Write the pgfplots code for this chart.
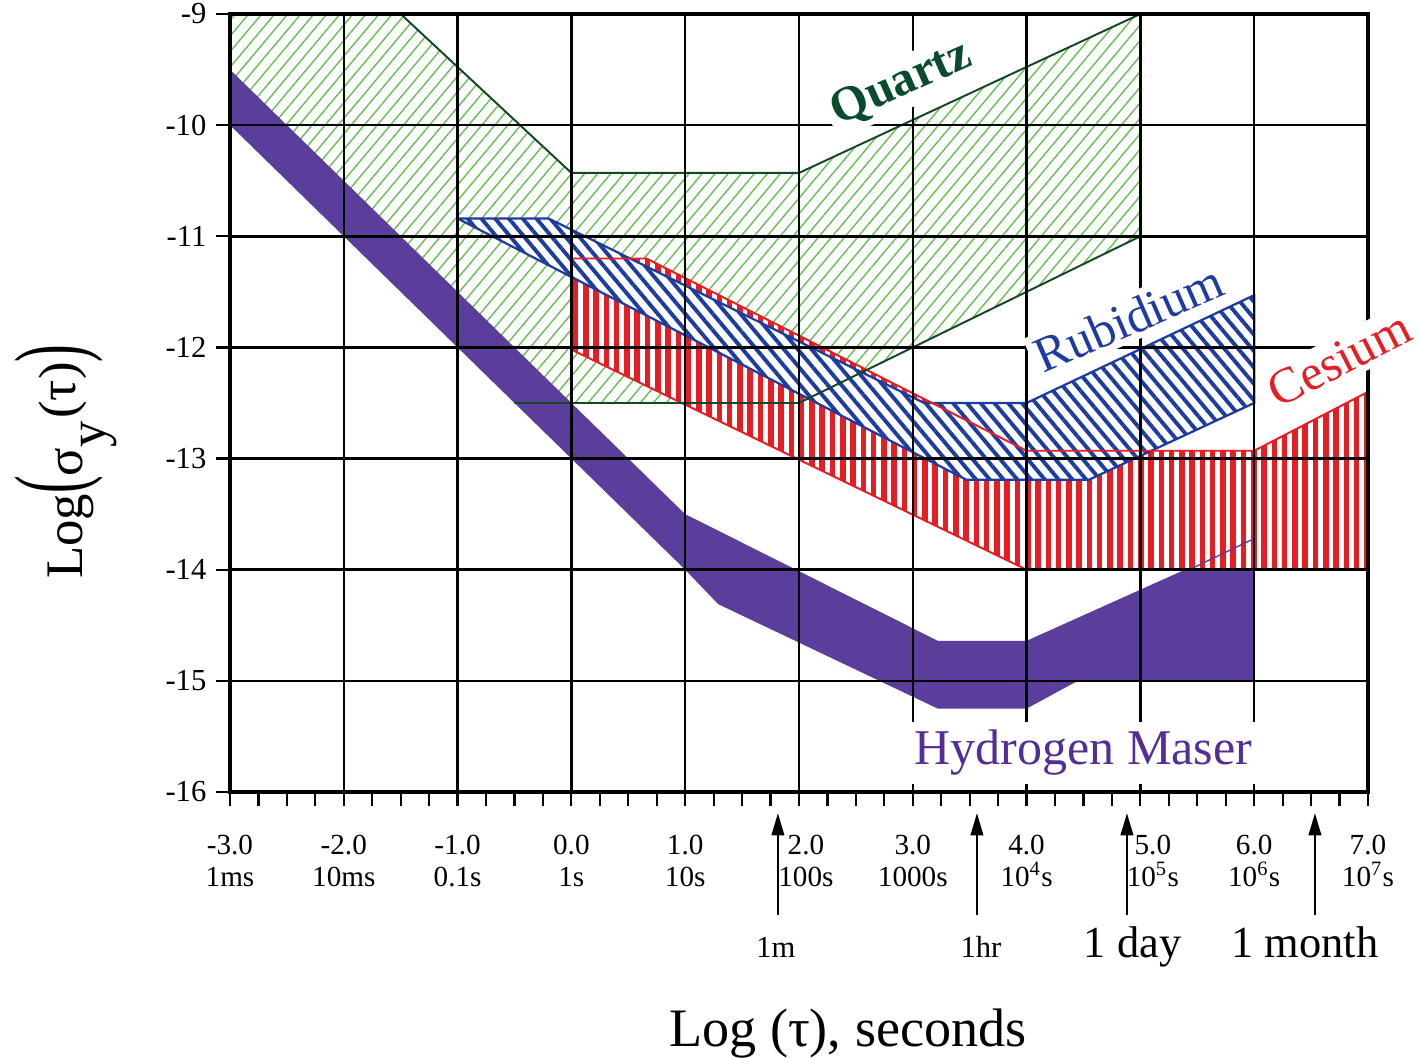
\documentclass[border=0pt]{standalone}
\usepackage{fontspec}
\setmainfont{Liberation Serif}
\usepackage{pgfplots}
\pgfplotsset{compat=1.18}
\usetikzlibrary{patterns.meta,arrows.meta}

\definecolor{maser}{RGB}{91,61,155}
\definecolor{hmtext}{RGB}{85,45,150}
\definecolor{csred}{RGB}{230,30,35}
\definecolor{rbblue}{RGB}{30,60,160}
\definecolor{qzgreen}{RGB}{100,190,80}
\definecolor{qzline}{RGB}{20,70,40}
\definecolor{qztext}{RGB}{10,75,45}

\begin{document}
\begin{tikzpicture}
\begin{axis}[
    scale only axis, width=409.7pt, height=280.1pt,
    xmin=-3, xmax=7, ymin=-16, ymax=-9,
    axis on top, clip=false,
    xtick={-3,...,7}, ytick={-16,...,-9},
    minor x tick num=3,
    grid=major, major grid style={black, line width=0.9pt},
    axis line style={line width=1.1pt},
    tick style={black, line width=0.8pt},
    tick align=outside, xtick pos=lower, ytick pos=left,
    major tick length=5pt, minor tick length=5pt,
    xticklabels={{-3.0\\1ms},{-2.0\\10ms},{-1.0\\0.1s},{0.0\\1s},{1.0\\10s},
        {\hspace*{5pt}2.0\\\hspace*{5pt}100s},{3.0\\1000s},{4.0\\10\textsuperscript{4}s},
        {\hspace*{9pt}5.0\\\hspace*{9pt}10\textsuperscript{5}s},
        {6.0\\10\textsuperscript{6}s},{7.0\\10\textsuperscript{7}s}},
    yticklabels={-16,-15,-14,-13,-12,-11,-10,-9},
    xticklabel style={align=center, yshift=-7pt, font=\fontsize{10.5}{11.6}\selectfont},
    yticklabel style={font=\fontsize{11}{13}\selectfont},
]

% quartz
\addplot[draw=none, pattern={Lines[angle=50,distance=3.6pt,line width=0.5pt]}, pattern color=qzgreen]
    coordinates {(-3,-9) (-1.5,-9) (0,-10.43) (2,-10.43) (5,-9) (5,-11) (2,-12.5) (-0.5,-12.5) (-3,-10)};

% hydrogen maser
\addplot[draw=none, fill=maser] coordinates {
    (-3,-9.5) (1,-13.5) (3.22,-14.64) (4,-14.64) (6,-13.72) (6,-15) (4.45,-15)
    (4,-15.25) (3.22,-15.25) (1.29,-14.31) (1,-14) (-3,-10)};

% cesium
\addplot[draw=none, fill=white] coordinates {
    (0,-11.2) (0.66,-11.2) (4,-12.93) (6,-12.93) (7,-12.4) (7,-14) (4,-14) (0,-12.02)};
\addplot[draw=none, pattern={Lines[angle=90,distance=3.7pt,line width=2pt]}, pattern color=csred]
    coordinates {(0,-11.2) (0.66,-11.2) (4,-12.93) (6,-12.93) (7,-12.4) (7,-14) (4,-14) (0,-12.02)};

% rubidium
\addplot[draw=none, fill=white] coordinates {
    (-1,-10.84) (-0.2,-10.84) (3.1,-12.5) (4,-12.5) (6,-11.53) (6,-12.5) (4.55,-13.19) (3.47,-13.19)};
\addplot[draw=rbblue, line width=0.8pt, pattern={Lines[angle=-50,distance=3.8pt,line width=1.4pt]}, pattern color=rbblue]
    coordinates {(-1,-10.84) (-0.2,-10.84) (3.1,-12.5) (4,-12.5) (6,-11.53) (6,-12.5) (4.55,-13.19) (3.47,-13.19) (-1,-10.84)};

% outlines on top
\addplot[csred, line width=0.7pt] coordinates {
    (0,-11.2) (0.66,-11.2) (4,-12.93) (6,-12.93) (7,-12.4) (7,-14) (4,-14) (0,-12.02) (0,-11.2)};
\addplot[maser, line width=0.5pt] coordinates {(5.43,-14) (6,-13.72)};
\addplot[qzline, line width=0.7pt] coordinates {
    (-1.5,-9) (0,-10.43) (2,-10.43) (5,-9) (5,-11) (2,-12.5) (-0.5,-12.5)};

% time markers
\addplot[black, line width=0.8pt, -{Triangle[length=8pt,width=4.5pt]}] coordinates {(1.815,-17.11) (1.815,-16.19)};
\addplot[black, line width=0.8pt, -{Triangle[length=8pt,width=4.5pt]}] coordinates {(3.564,-17.11) (3.564,-16.19)};
\addplot[black, line width=0.8pt, -{Triangle[length=8pt,width=4.5pt]}] coordinates {(4.882,-17.11) (4.882,-16.19)};
\addplot[black, line width=0.8pt, -{Triangle[length=8pt,width=4.5pt]}] coordinates {(6.534,-17.11) (6.534,-16.19)};

\node[anchor=base, font=\fontsize{11}{13}\selectfont] at (axis cs:1.798,-17.485) {1m};
\node[anchor=base, font=\fontsize{11}{13}\selectfont] at (axis cs:3.599,-17.485) {1hr};
\node[anchor=base, font=\fontsize{16}{19}\selectfont] at (axis cs:4.932,-17.485) {1 day};
\node[anchor=base, font=\fontsize{16}{19}\selectfont] at (axis cs:6.446,-17.485) {1 month};

\node[anchor=base, font=\fontsize{19.5}{23}\selectfont] at (axis cs:2.43,-18.29) {Log (τ), seconds};
\node[anchor=base, rotate=90, font=\fontsize{19}{23}\selectfont] at (axis cs:-4.292,-13.03)
    {Log\scalebox{1}[1.85]{(}σ\raisebox{-0.42em}{y}\kern1pt\raisebox{0.15em}{(τ)}\scalebox{1}[1.85]{)}};

\coordinate (qz) at (axis cs:2.944,-9.729);
\coordinate (rb) at (axis cs:4.958,-11.879);
\coordinate (cs) at (axis cs:6.813,-12.239);
\coordinate (hm) at (axis cs:4.5,-15.757);
\coordinate (bbsw) at (axis cs:-5.021,-18.385);
\coordinate (bbne) at (axis cs:7.466,-8.874);
\end{axis}

\node[anchor=base, rotate=24, fill=white, inner sep=2pt, text=qztext, font=\fontsize{17.5}{20}\selectfont\bfseries] at (qz) {Quartz};
\node[anchor=base, rotate=23.5, fill=white, inner sep=2pt, text=rbblue, font=\fontsize{18}{21}\selectfont] at (rb) {Rubidium};
\node[anchor=base, rotate=27, fill=white, inner sep=2pt, text=csred, font=\fontsize{18}{21}\selectfont] at (cs) {Cesium};
\node[anchor=base, fill=white, inner sep=3pt, text=hmtext, font=\fontsize{18}{21}\selectfont] at (hm) {Hydrogen Maser};

\pgfresetboundingbox
\path[use as bounding box] (bbsw) rectangle (bbne);
\end{tikzpicture}
\end{document}
